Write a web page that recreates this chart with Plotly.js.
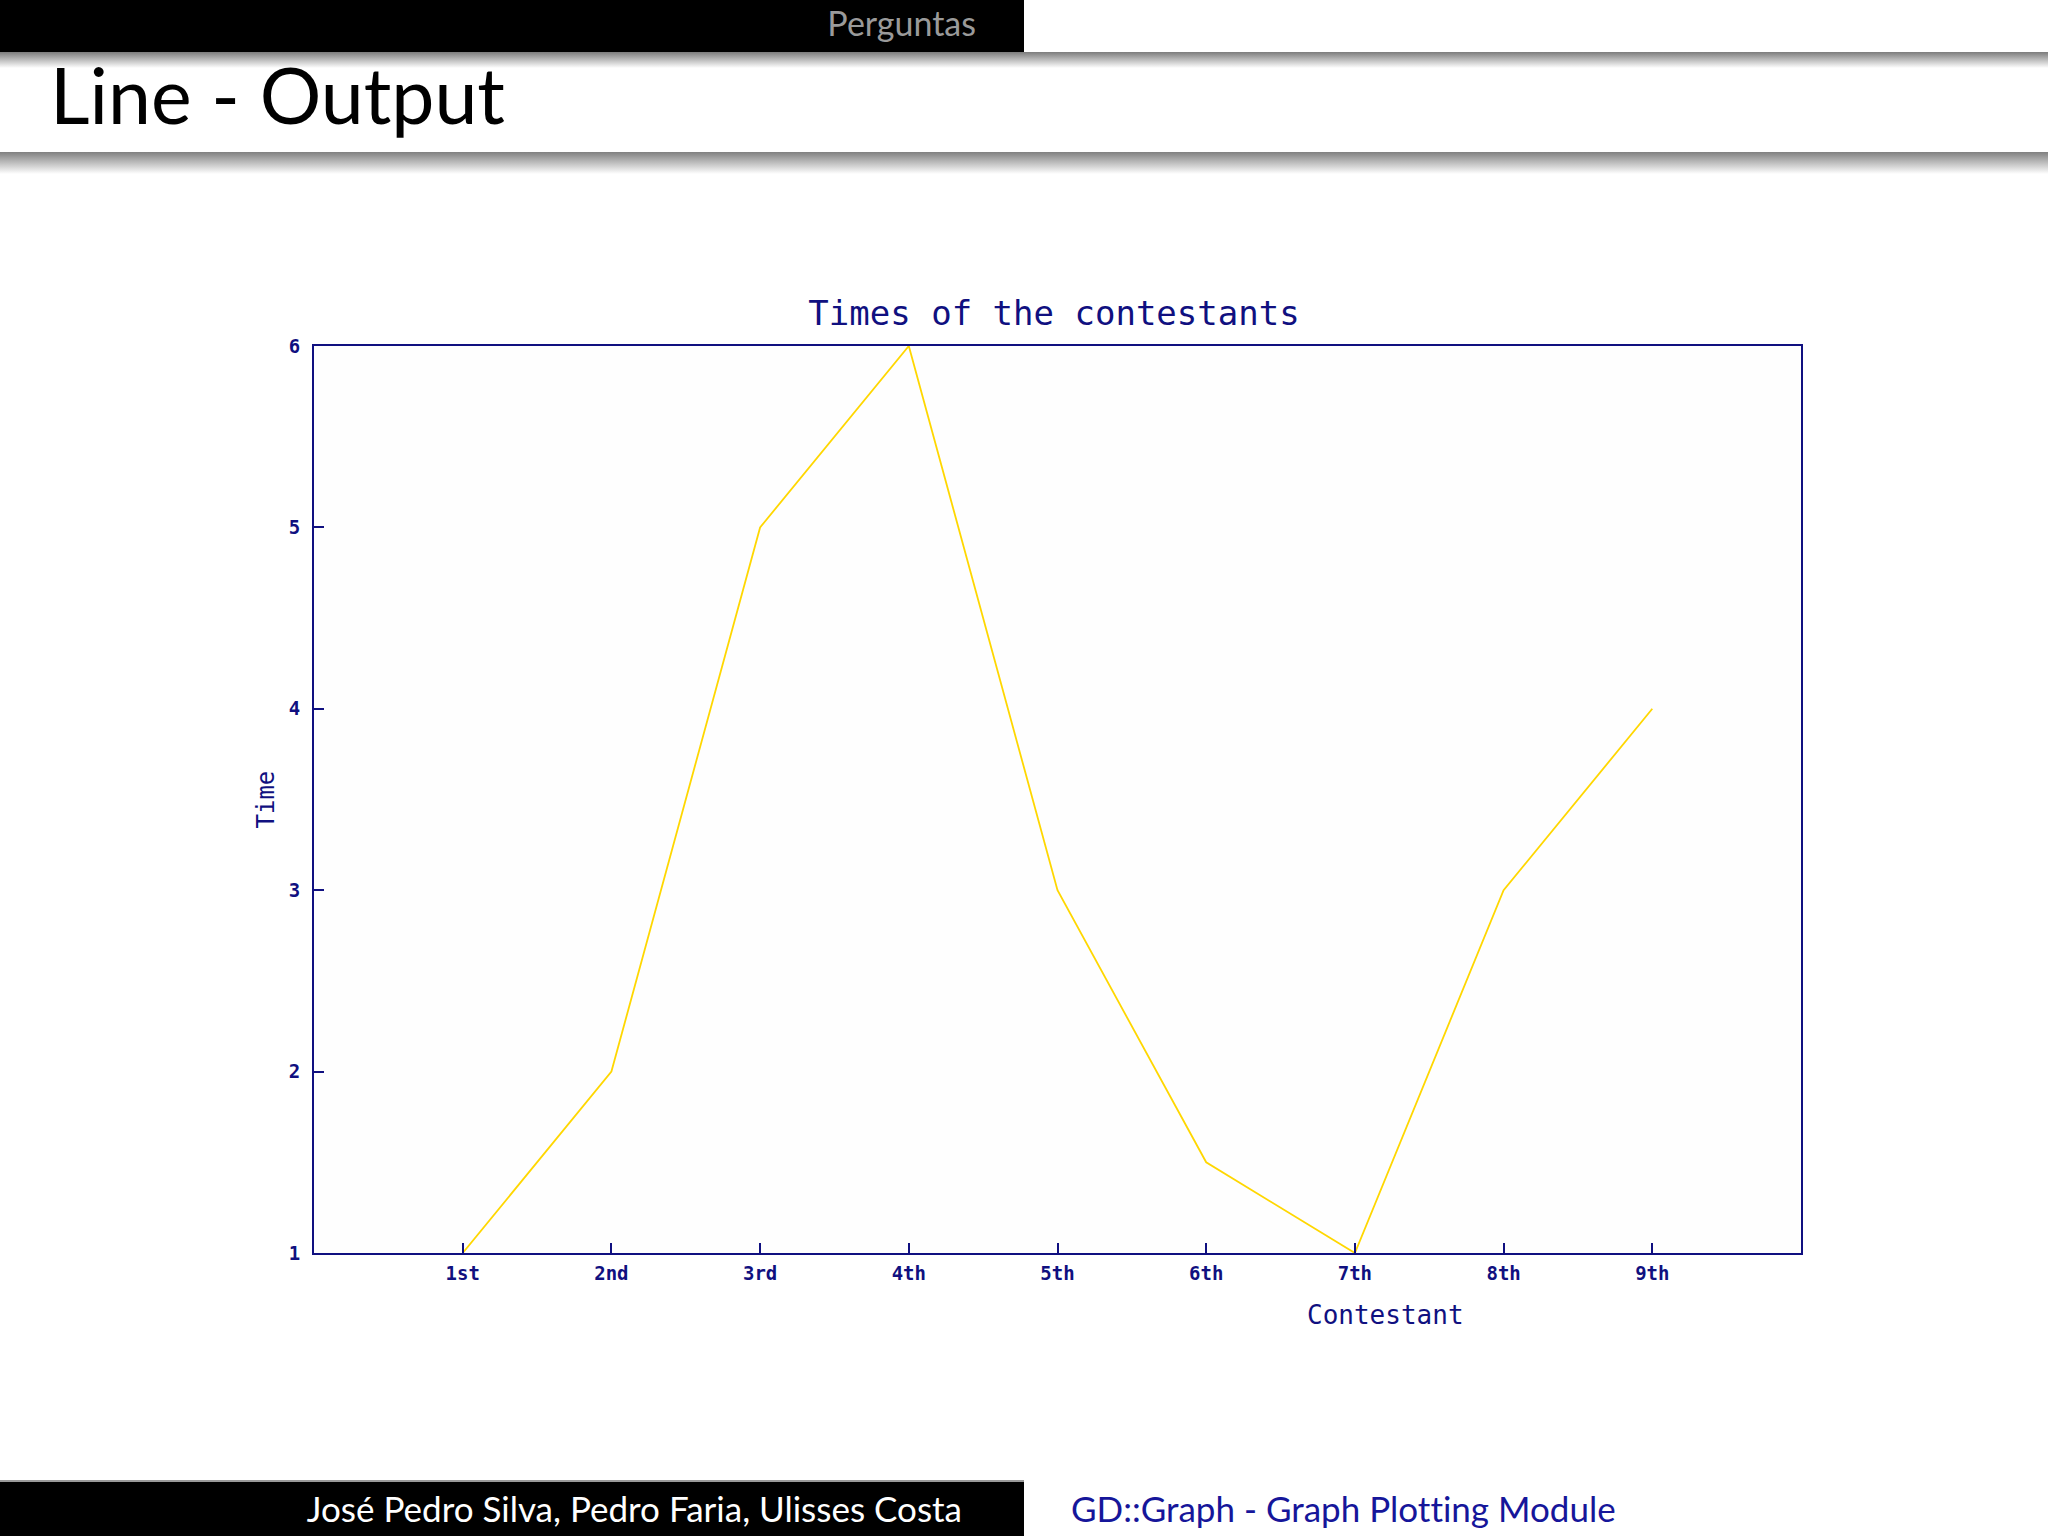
<!DOCTYPE html>
<html>
<head>
<meta charset="utf-8">
<script src="https://cdn.plot.ly/plotly-3.0.1.min.js"></script>
<style>
  html, body { margin:0; padding:0; width:2048px; height:1536px; overflow:hidden; background:#ffffff; font-variant-ligatures:none; font-feature-settings:"liga" 0; }
  .abs { position:absolute; }
  #topbar { left:0; top:0; width:1024px; height:52px; background:#000; }
  #toptext { left:0; top:0; width:976px; height:52px; line-height:46px; text-align:right; color:#9a9a9a; font-family:Lato, "Open Sans", sans-serif; font-size:34px; }
  #shadow1 { left:0; top:52px; width:2048px; height:16px; background:linear-gradient(#7c7c7c, #ffffff); }
  #slidetitle { left:50px; top:44px; font-family:Lato, "Open Sans", sans-serif; font-size:77px; color:#000; line-height:100px; white-space:nowrap; }
  #shadow2 { left:0; top:152px; width:2048px; height:22px; background:linear-gradient(#808080, #ffffff); }
  #footline { left:0; top:1480px; width:1024px; height:2px; background:#9a9a9a; }
  #footbar { left:0; top:1482px; width:1024px; height:54px; background:#000; }
  #foottext { left:0; top:1482px; width:962px; height:54px; line-height:52px; text-align:right; color:#fff; font-family:Lato, "Open Sans", sans-serif; font-size:35px; white-space:nowrap; }
  #footright { left:1071px; top:1482px; height:54px; line-height:52px; color:#16169a; font-family:Lato, "Open Sans", sans-serif; font-size:35px; white-space:nowrap; }
  #chart { left:0; top:0; width:2048px; height:1536px; }
</style>
</head>
<body>
<div id="topbar" class="abs"></div>
<div id="toptext" class="abs">Perguntas</div>
<div id="shadow1" class="abs"></div>
<div id="slidetitle" class="abs">Line - Output</div>
<div id="shadow2" class="abs"></div>
<div id="footline" class="abs"></div>
<div id="footbar" class="abs"></div>
<div id="foottext" class="abs">José Pedro Silva, Pedro Faria, Ulisses Costa</div>
<div id="footright" class="abs">GD::Graph - Graph Plotting Module</div>
<div id="chart" class="abs"></div>
<script>
// Data
const contestants = ["1st", "2nd", "3rd", "4th", "5th", "6th", "7th", "8th", "9th"];
const positions = [1, 2, 3, 4, 5, 6, 7, 8, 9];
const times = [1, 2, 5, 6, 3, 1.5, 1, 3, 4];
const yTicks = [1, 2, 3, 4, 5, 6];
const chartTitle = "Times of the contestants";
const xLabel = "Contestant";
const yLabel = "Time";

const navy = "#101080";
const mono = "'DejaVu Sans Mono', 'Liberation Mono', monospace";

const trace = {
  x: positions,
  y: times,
  type: "scatter",
  mode: "lines",
  line: { color: "#ffd700", width: 1.8 },
  hoverinfo: "skip",
  showlegend: false
};

const layout = {
  width: 2048,
  height: 1536,
  margin: { l: 314, r: 247, t: 346, b: 283, pad: 0 },
  paper_bgcolor: "rgba(0,0,0,0)",
  plot_bgcolor: "#fefefe",
  showlegend: false,
  title: {
    text: chartTitle,
    font: { family: mono, size: 34, color: navy },
    x: 1054 / 2048, xref: "container", xanchor: "center",
    y: 1 - 313 / 1536, yref: "container", yanchor: "middle"
  },
  xaxis: {
    range: [0, 10],
    tickmode: "array",
    tickvals: positions,
    ticktext: contestants,
    ticks: "inside",
    ticklen: 10,
    tickwidth: 2,
    tickcolor: navy,
    showline: true,
    mirror: true,
    linecolor: navy,
    linewidth: 2,
    showgrid: false,
    zeroline: false,
    tickfont: { family: mono, size: 19, color: navy, weight: "bold" },
    ticklabelstandoff: 2,
    fixedrange: true
  },
  yaxis: {
    range: [1, 6],
    tickmode: "array",
    tickvals: yTicks,
    ticktext: yTicks.map(String),
    ticks: "inside",
    ticklen: 10,
    tickwidth: 2,
    tickcolor: navy,
    showline: true,
    mirror: true,
    linecolor: navy,
    linewidth: 2,
    showgrid: false,
    zeroline: false,
    tickfont: { family: mono, size: 19, color: navy, weight: "bold" },
    ticklabelstandoff: 8,
    fixedrange: true
  },
  annotations: [
    {
      text: xLabel, xref: "paper", yref: "paper",
      x: (1385 - 314) / (1801 - 314), y: -(1315 - 1253) / (1253 - 346),
      xanchor: "center", yanchor: "middle", showarrow: false,
      font: { family: mono, size: 26, color: navy }
    },
    {
      text: yLabel, xref: "paper", yref: "paper",
      x: -(314 - 265) / (1801 - 314), y: 0.5,
      xanchor: "center", yanchor: "middle", showarrow: false, textangle: -90,
      font: { family: mono, size: 24, color: navy }
    }
  ]
};

Plotly.newPlot("chart", [trace], layout, { staticPlot: true, displayModeBar: false });
</script>
</body>
</html>
